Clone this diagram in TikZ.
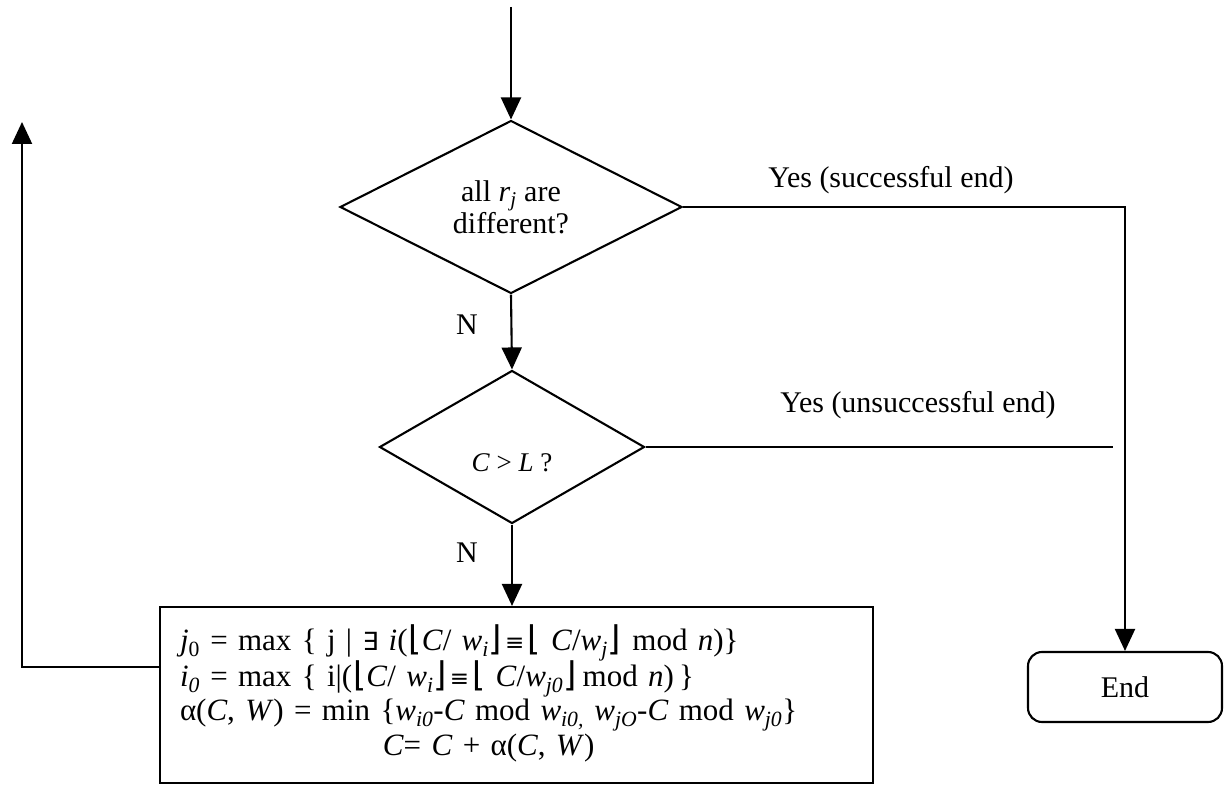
\documentclass[tikz,border=0pt]{standalone}
\usepackage{fontspec}
\setmainfont{Liberation Serif}
\newfontfamily\symfont{DejaVu Sans}
\usetikzlibrary{shapes.geometric,arrows.meta}
\newcommand{\sbi}[1]{\textsubscript{\textit{#1}}}
\newcommand{\lfl}{\hspace{1pt}{\symfont\fontsize{34}{34}\selectfont ⌊}}
\newcommand{\rfl}{{\symfont\fontsize{34}{34}\selectfont ⌋}\hspace{1pt}}
\newcommand{\eqv}{\hspace{2pt}{\symfont\fontsize{23}{34}\selectfont ≡}\hspace{2pt}}
\newcommand{\exs}{{\symfont\fontsize{25}{34}\selectfont ∃}}
\begin{document}
\begin{tikzpicture}[x=1pt,y=-1pt,line width=2.1pt,
  every node/.style={font=\fontsize{30}{32}\selectfont},
  arr/.style={-{Triangle[length=22pt,width=20pt]}},
  decision/.style={draw,diamond,inner sep=0pt,aspect=2,align=center},
  procbox/.style={draw,minimum width=713pt,minimum height=176pt,text width=673pt,inner xsep=20pt,align=left,font=\fontsize{31}{34}\selectfont},
  endbox/.style={draw,rounded corners=14pt,minimum width=194pt,minimum height=70pt},
  lbl/.style={inner sep=0pt}]
\useasboundingbox (0,0) rectangle (1229,786);

\coordinate (top) at (511,7);
\node[decision,minimum width=342pt,minimum height=173pt] (d1) at (511,207) {all \textit{r}\sbi{j} are\\different?};
\node[decision,minimum width=265pt,minimum height=153pt,
      label={[yshift=-16pt,font=\fontsize{27}{30}\selectfont]center:\textit{C} > \textit{L} ?}] (d2) at (512,447) {};
\node[procbox] (box) at (516.5,695) {%
\begin{tabular}{@{}l@{}}
\textit{j}\textsubscript{0} = max \{ j | \exs\ \textit{i}(\lfl\textit{C}/ \textit{w}\sbi{i}\rfl\eqv\lfl\ \textit{C}/\textit{w}\sbi{j}\rfl\ mod \textit{n})\}\\
\textit{i}\sbi{0} = max \{ i|(\lfl\textit{C}/ \textit{w}\sbi{i}\rfl\eqv\lfl\ \textit{C}/\textit{w}\sbi{j0}\rfl\,mod \textit{n})\,\}\\
α(\textit{C}, \textit{W}) = min \{\textit{w}\sbi{i0}-\textit{C} mod \textit{w}\sbi{i0,} \textit{w}\sbi{jO}-\textit{C} mod \textit{w}\sbi{j0}\}\\
\multicolumn{1}{@{}c@{}}{\textit{C}= \textit{C} + α(\textit{C}, \textit{W})}
\end{tabular}};
\node[endbox] (end) at (1125,687) {End};

\node[lbl] (ys) at (891,180) {Yes (successful end)};
\node[lbl] (yu) at (918,405) {Yes (unsuccessful end)};
\node[lbl] (n1) at (467,325) {N};
\node[lbl] (n2) at (467,553) {N};

\coordinate (u) at (1113,447);
\coordinate (fb) at (22,667);
\coordinate (fbtop) at (22,122);

\draw[arr] (top) -- (d1.north);
\draw[arr] (d1.south) -- (d2.north);
\draw[arr] (d2.south) -- (d2.south |- box.north);
\draw[arr] (d1.east) -- (d1.east -| end.north) -- (end.north);
\draw (d2.east) -- (u);
\draw[arr] (box.west |- fb) -- (fb) -- (fbtop);
\end{tikzpicture}
\end{document}
